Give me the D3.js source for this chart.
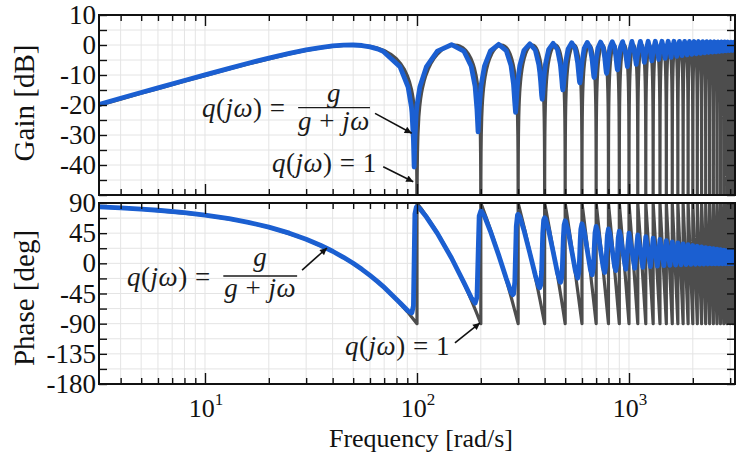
<!DOCTYPE html>
<html>
<head>
<meta charset="utf-8">
<script src="https://cdn.jsdelivr.net/npm/d3@7/dist/d3.min.js"></script>
<style>
html,body{margin:0;padding:0;background:#fff;}
svg{display:block;}
text{white-space:pre;}
</style>
</head>
<body>
<svg id="chart" width="747" height="455"></svg>
<script>
// ---------------- data ----------------
const freqDomain  = [3.1623, 3162.3];
const gainDomain  = [-50, 10];
const phaseDomain = [-180, 90];

const freqMajorTicks = [10, 100, 1000];
const freqMinorTicks = [4,5,6,7,8,9,20,30,40,50,60,70,80,90,200,300,400,500,600,700,800,900,2000,3000];
const freqTickExponents = ["1", "2", "3"];
const gainTicks = [-50,-45,-40,-35,-30,-25,-20,-15,-10,-5,0,5,10];
const gainTickLabels = [-40,-30,-20,-10,0,10];
const phaseTicks = [-180,-157.5,-135,-112.5,-90,-67.5,-45,-22.5,0,22.5,45,67.5,90];
const phaseTickLabels = [-180,-135,-90,-45,0,45,90];

// q(jw) = 1 (grey): notch frequencies and the shape of one period (offset from notch, rad/s)
const greyNotchFreq = [0,100,200,300,400,500,600,700,800,900,1000,1100,1200,1300,1400,1500,
                       1600,1700,1800,1900,2000,2100,2200,2300,2400,2500,2600,2700,2800,2900,3000,3100];
const greyGainOffset = [0,0.2,0.5,1,2,3,4,5,6,8,10,13,16,20,25,30,35,40,45,50,
                        55,60,65,70,75,80,84,87,90,92,94,95,96,97,98,99,99.5,99.8];
const greyGainDb = [-90,-44.04,-36.08,-30.06,-24.04,-20.53,-18.04,-16.11,-14.55,-12.09,
                    -10.20,-8.02,-6.34,-4.62,-3.01,-1.84,-1.00,-0.44,-0.11,0,
                    -0.11,-0.44,-1.00,-1.84,-3.01,-4.62,-6.34,-8.02,-10.20,-12.09,
                    -14.55,-16.11,-18.04,-20.53,-24.04,-30.06,-36.08,-44.04];
const greyPhaseOffset = [0,1,3,5,10,15,20,30,40,50,60,70,80,90,100];
const greyPhaseDeg    = [90,88.2,84.6,81,72,63,54,36,18,0,-18,-36,-54,-72,-90];

// q(jw) = g/(g+jw) (blue)
const blueFreq = [
  3.0,3.1623,4,5,6,8,10,13,16,20,25,30,35,40,45,50,55,60,65,
  69.17,83.06,90.78,94.07,94.64,96.18,96.95,97.72,99.27,100,103.13,110.85,124.75,145.48,
  166.25,180.18,187.92,191.79,194.11,196.43,200.3,208.05,222.0,242.81,
  263.64,277.62,283.1,285.38,289.27,291.6,293.94,297.83,300,305.59,319.59,340.49,
  361.4,375.43,379.26,383.22,387.12,389.46,391.81,395.71,400,403.51,417.58,438.54,
  459.53,473.61,475.65,481.44,485.35,487.7,490.05,493.96,499.76,501.8,515.9,536.93,
  557.98,572.58,579.96,583.89,586.25,588.61,592.54,599.91,614.52,635.61,
  656.71,670.15,678.74,682.68,685.04,687.4,691.33,699.94,713.37,734.51,
  755.65,768.08,777.73,781.67,784.03,786.4,790.34,800,812.43,833.59,
  854.77,866.39,876.88,880.84,883.21,885.58,889.53,900,911.63,932.83,965.2,
  982.4,1000,1032.1,1064.1,
  1081.8,1100,1131.5,1163.1,
  1181.3,1200,1231.1,1262.1,
  1280.8,1300,1330.6,1361.3,
  1380.5,1400,1430.3,1460.6,
  1480.1,1500,1530.0,1559.9,
  1579.8,1600,1629.7,1659.4,
  1679.6,1700,1729.4,1758.9,
  1779.3,1800,1829.2,1858.4,
  1879.1,1900,1929.0,1958.0,
  1978.9,2000,2028.8,2057.6,
  2078.7,2100,2128.6,2157.3,
  2178.6,2200,2228.5,2257.0,
  2278.4,2300,2328.3,2356.7,
  2378.3,2400,2428.2,2456.4,
  2478.1,2500,2528.1,2556.2,
  2578.0,2600,2628.0,2655.9,
  2677.9,2700,2727.9,2755.7,
  2777.8,2800,2827.8,2855.5,
  2877.7,2900,2927.7,2955.3,
  2977.6,3000,3027.6,3055.2,
  3077.5,3100,3127.5,3155.0,
  3177.5,3200
];
const blueGainDb = [
  -20.26,-19.80,-17.77,-15.84,-14.28,-11.83,-9.94,-7.77,-6.09,-4.38,-2.79,-1.65,-0.85,-0.32,-0.05,0.00,-0.17,-0.61,-1.29,
  -2.10,-7.20,-14.00,-20.58,-22.41,-31.46,-40.66,-31.43,-22.39,-20.05,-13.98,-7.18,-2.06,0.09,
  -2.01,-7.08,-13.78,-21.54,-28.95,-21.46,-13.74,-7.03,-1.93,0.22,
  -1.85,-6.87,-11.30,-13.25,-19.37,-22.42,-19.25,-13.15,-10.83,-6.79,-1.75,0.39,
  -1.66,-6.55,-8.94,-12.36,-16.69,-18.09,-16.57,-12.23,-8.63,-6.45,-1.55,0.56,
  -1.46,-6.16,-7.25,-11.25,-14.24,-14.97,-14.13,-11.10,-7.12,-6.04,-1.34,0.72,
  -1.26,-5.95,-10.08,-12.20,-12.64,-12.11,-9.94,-5.82,-1.15,0.86,
  -1.07,-4.98,-8.99,-10.54,-10.84,-10.47,-8.86,-4.86,-0.97,0.98,
  -0.90,-4.20,-8.02,-9.20,-9.41,-9.15,-7.90,-4.08,-0.81,1.07,
  -0.75,-3.60,-7.17,-8.11,-8.27,-8.06,-7.07,-3.49,-0.68,1.13,-3.17,
  -7.19,-3.01,1.19,-2.80,
  -6.44,-2.62,1.22,-2.45,
  -5.81,-2.29,1.24,-2.15,
  -5.28,-2.02,1.25,-1.90,
  -4.83,-1.79,1.25,-1.69,
  -4.44,-1.60,1.24,-1.51,
  -4.10,-1.43,1.24,-1.36,
  -3.81,-1.29,1.22,-1.23,
  -3.55,-1.17,1.21,-1.11,
  -3.32,-1.06,1.19,-1.01,
  -3.12,-0.97,1.17,-0.93,
  -2.94,-0.89,1.15,-0.85,
  -2.77,-0.82,1.13,-0.78,
  -2.63,-0.75,1.11,-0.72,
  -2.49,-0.70,1.09,-0.67,
  -2.37,-0.64,1.07,-0.62,
  -2.26,-0.60,1.05,-0.58,
  -2.16,-0.56,1.03,-0.54,
  -2.06,-0.52,1.01,-0.50,
  -1.98,-0.49,0.99,-0.47,
  -1.90,-0.46,0.97,-0.44,
  -1.83,-0.43,0.96,-0.42,
  -1.76,-0.40
];
const bluePhaseDeg = [
  84.60,84.31,82.80,81.00,79.20,75.60,72.00,66.60,61.20,54.00,45.05,35.95,27.00,18.00,9.00,0.05,-8.95,-17.93,-26.86,
  -34.30,-58.73,-71.15,-74.07,-73.72,-63.21,5.44,73.50,83.94,84.29,81.37,68.97,44.65,7.95,
  -28.29,-51.00,-59.34,-51.03,10.23,70.52,78.65,70.34,47.82,12.25,
  -22.62,-42.78,-46.78,-45.60,-27.98,14.00,55.18,72.24,73.30,69.35,49.41,15.45,
  -17.70,-34.92,-36.42,-32.47,-11.86,16.63,44.62,64.48,68.20,66.67,49.67,17.58,
  -13.65,-27.91,-28.28,-21.60,-2.00,18.29,38.28,57.14,63.44,63.03,48.94,18.80,
  -10.47,-22.04,-13.42,3.90,19.15,34.22,50.93,59.04,47.56,19.36,
  -7.99,-17.27,-7.52,7.47,19.46,31.33,45.85,55.01,45.79,19.46,
  -6.09,-13.65,-3.38,9.60,19.38,29.06,41.67,51.35,43.82,19.22,
  -4.65,-10.88,-0.47,10.85,19.04,27.17,38.18,48.02,41.79,18.80,-8.76,
  18.44,45.00,18.14,-7.32,
  17.83,42.27,17.51,-5.99,
  17.19,39.81,16.86,-4.94,
  16.53,37.57,16.21,-4.12,
  15.88,35.54,15.57,-3.46,
  15.26,33.69,14.95,-2.93,
  14.65,32.01,14.36,-2.50,
  14.08,30.47,13.80,-2.15,
  13.53,29.06,13.27,-1.86,
  13.02,27.76,12.77,-1.61,
  12.53,26.57,12.30,-1.41,
  12.07,25.46,11.85,-1.24,
  11.64,24.44,11.43,-1.10,
  11.23,23.50,11.04,-0.97,
  10.85,22.62,10.67,-0.87,
  10.49,21.80,10.32,-0.78,
  10.15,21.04,9.99,-0.70,
  9.83,20.32,9.68,-0.63,
  9.53,19.65,9.38,-0.57,
  9.24,19.03,9.11,-0.51,
  8.97,18.43,8.84,-0.47,
  8.72,17.88,8.59,-0.43,
  8.47,17.35
];

// ---------------- layout & style ----------------
const W = 747, H = 455;
const plotLeft = 99, plotRight = 735;
const gainTop = 15, gainBottom = 195;
const phaseTop = 203, phaseBottom = 384;
const serif = "'Liberation Serif','DejaVu Serif','Times New Roman',serif";
const greyColor = "#4d4d4d", blueColor = "#1b5fd1", gridColor = "#e4e4e4";

const svg = d3.select("#chart");
svg.append("rect").attr("width", W).attr("height", H).attr("fill", "#fff");

const x  = d3.scaleLog().domain(freqDomain).range([plotLeft, plotRight]);
const yG = d3.scaleLinear().domain(gainDomain).range([gainBottom, gainTop]);
const yP = d3.scaleLinear().domain(phaseDomain).range([phaseBottom, phaseTop]);

// build series tables
const greyGainPts = [], greyPhasePts = [];
greyNotchFreq.forEach(f0 => {
  greyGainOffset.forEach((o, i) => { const w = f0 + o; if (w > 0) greyGainPts.push([w, greyGainDb[i]]); });
  greyPhaseOffset.forEach((o, i) => { const w = f0 + o; if (w > 0) greyPhasePts.push([w, greyPhaseDeg[i]]); });
});
const blueGainPts  = blueFreq.map((w, i) => [w, blueGainDb[i]]);
const bluePhasePts = blueFreq.map((w, i) => [w, bluePhaseDeg[i]]);

const defs = svg.append("defs");
defs.append("marker").attr("id", "arrowhead").attr("viewBox", "0 0 10 10")
  .attr("refX", 10).attr("refY", 5).attr("markerWidth", 10).attr("markerHeight", 7)
  .attr("markerUnits", "userSpaceOnUse").attr("orient", "auto")
  .append("path").attr("d", "M0,0 L10,5 L0,10 Z").attr("fill", "#111");

function tickStyle(sel) {
  sel.select(".domain").remove();
  sel.selectAll(".tick line").attr("stroke", "#111").attr("stroke-width", 1.4);
}

function drawPanel(cfg) {
  const g = svg.append("g");
  const allFreqTicks = freqMajorTicks.concat(freqMinorTicks);
  // grid
  g.append("g").selectAll("line").data(allFreqTicks).join("line")
    .attr("x1", d => x(d)).attr("x2", d => x(d))
    .attr("y1", cfg.top).attr("y2", cfg.bottom)
    .attr("stroke", gridColor).attr("stroke-width", 1);
  g.append("g").selectAll("line").data(cfg.ticks).join("line")
    .attr("x1", plotLeft).attr("x2", plotRight)
    .attr("y1", d => cfg.y(d)).attr("y2", d => cfg.y(d))
    .attr("stroke", gridColor).attr("stroke-width", 1);

  // curves
  defs.append("clipPath").attr("id", "clip-" + cfg.name)
    .append("rect").attr("x", plotLeft).attr("y", cfg.top)
    .attr("width", plotRight - plotLeft).attr("height", cfg.bottom - cfg.top);
  const plot = g.append("g").attr("clip-path", `url(#clip-${cfg.name})`);
  const line = d3.line().x(d => x(d[0])).y(d => cfg.y(d[1]));
  plot.append("path").datum(cfg.grey).attr("d", line)
    .attr("fill", "none").attr("stroke", greyColor).attr("stroke-width", 3.2)
    .attr("stroke-linejoin", "round");
  plot.append("path").datum(cfg.blue).attr("d", line)
    .attr("fill", "none").attr("stroke", blueColor).attr("stroke-width", 4.8)
    .attr("stroke-linejoin", "round").attr("stroke-linecap", "round");

  // inward ticks on all four sides
  g.append("g").attr("transform", `translate(0,${cfg.bottom})`)
    .call(d3.axisBottom(x).tickValues(freqMajorTicks).tickSize(-11).tickFormat("")).call(tickStyle);
  g.append("g").attr("transform", `translate(0,${cfg.bottom})`)
    .call(d3.axisBottom(x).tickValues(freqMinorTicks).tickSize(-6).tickFormat("")).call(tickStyle);
  g.append("g").attr("transform", `translate(0,${cfg.top})`)
    .call(d3.axisTop(x).tickValues(freqMajorTicks).tickSize(-11).tickFormat("")).call(tickStyle);
  g.append("g").attr("transform", `translate(0,${cfg.top})`)
    .call(d3.axisTop(x).tickValues(freqMinorTicks).tickSize(-6).tickFormat("")).call(tickStyle);
  g.append("g").attr("transform", `translate(${plotLeft},0)`)
    .call(d3.axisLeft(cfg.y).tickValues(cfg.ticks).tickSize(-8).tickFormat("")).call(tickStyle);
  g.append("g").attr("transform", `translate(${plotRight},0)`)
    .call(d3.axisRight(cfg.y).tickValues(cfg.ticks).tickSize(-8).tickFormat("")).call(tickStyle);

  // y tick labels
  const lab = g.append("g").attr("transform", `translate(${plotLeft},0)`)
    .call(d3.axisLeft(cfg.y).tickValues(cfg.labels).tickSize(0).tickPadding(3).tickFormat(d => String(d)));
  lab.select(".domain").remove();
  lab.attr("font-family", null).attr("font-size", null);
  lab.selectAll("text").attr("font-family", serif).attr("font-size", 27).attr("fill", "#111");

  // frame
  g.append("rect").attr("x", plotLeft).attr("y", cfg.top)
    .attr("width", plotRight - plotLeft).attr("height", cfg.bottom - cfg.top)
    .attr("fill", "none").attr("stroke", "#111").attr("stroke-width", 2);
}

drawPanel({name: "gain",  top: gainTop,  bottom: gainBottom,  y: yG, ticks: gainTicks,  labels: gainTickLabels,  grey: greyGainPts,  blue: blueGainPts});
drawPanel({name: "phase", top: phaseTop, bottom: phaseBottom, y: yP, ticks: phaseTicks, labels: phaseTickLabels, grey: greyPhasePts, blue: bluePhasePts});

// x tick labels 10^n
freqMajorTicks.forEach((f, i) => {
  const t = svg.append("text").attr("x", x(f) + 1).attr("y", 417)
    .attr("text-anchor", "middle").attr("font-family", serif).attr("font-size", 26).attr("fill", "#111");
  t.append("tspan").text("10");
  t.append("tspan").attr("dy", -12).attr("font-size", 17).text(freqTickExponents[i]);
});

// axis titles
svg.append("text").attr("x", 421).attr("y", 447).attr("text-anchor", "middle")
  .attr("font-family", serif).attr("font-size", 26).attr("fill", "#111").text("Frequency [rad/s]");
svg.append("text").attr("transform", "translate(34,103) rotate(-90)").attr("text-anchor", "middle")
  .attr("font-family", serif).attr("font-size", 29).attr("fill", "#111").text("Gain [dB]");
svg.append("text").attr("transform", "translate(34,298) rotate(-90)").attr("text-anchor", "middle")
  .attr("font-family", serif).attr("font-size", 29).attr("fill", "#111").text("Phase [deg]");

// ---------------- annotations (anchored in data coordinates) ----------------
const mathSize = 27;
function mathText(px, py, parts, anchor) {
  const t = svg.append("text").attr("x", px).attr("y", py).attr("text-anchor", anchor || "start")
    .attr("font-family", serif).attr("font-size", mathSize).attr("letter-spacing", 0.5).attr("fill", "#1a1a1a");
  parts.forEach(p => t.append("tspan").attr("font-style", p[1] ? "italic" : "normal").text(p[0]));
  return t;
}
function arrow(p0, p1) {
  svg.append("line").attr("x1", p0[0]).attr("y1", p0[1]).attr("x2", p1[0]).attr("y2", p1[1])
    .attr("stroke", "#111").attr("stroke-width", 1.6).attr("marker-end", "url(#arrowhead)");
}
const qEq  = [["q",1],["(",0],["jω",1],[") =",0]];
const qOne = [["q",1],["(",0],["jω",1],[") = 1",0]];
const num  = [["g",1]];
const den  = [["g",1],[" + ",0],["jω",1]];

function fractionNote(y, a) {
  mathText(x(a.eq[0]), y(a.eq[1]), qEq, "start");
  const cx = x(a.fracCenter);
  mathText(cx, y(a.numBase), num, "middle");
  svg.append("line").attr("x1", x(a.bar[0])).attr("x2", x(a.bar[1]))
    .attr("y1", y(a.barY)).attr("y2", y(a.barY)).attr("stroke", "#1a1a1a").attr("stroke-width", 1.3);
  mathText(cx, y(a.denBase), den, "middle");
  arrow([x(a.arrow[0][0]), y(a.arrow[0][1])], [x(a.arrow[1][0]), y(a.arrow[1][1])]);
  mathText(x(a.one[0]), y(a.one[1]), qOne, "start");
  arrow([x(a.arrow2[0][0]), y(a.arrow2[0][1])], [x(a.arrow2[1][0]), y(a.arrow2[1][1])]);
}
fractionNote(yG, {
  eq: [9.68, -24.0], fracCenter: 40.6, numBase: -19.0, denBase: -28.3, barY: -20.9, bar: [27.5, 60.0],
  arrow: [[63.4, -22.8], [94.4, -29.4]],
  one: [20.7, -42.3], arrow2: [[69.3, -40.6], [96.0, -45.6]]
});
fractionNote(yP, {
  eq: [4.29, -34.5], fracCenter: 18.2, numBase: -4.0, denBase: -50.2, barY: -18.9, bar: [12.2, 27.2],
  arrow: [[28.7, -10.0], [37.6, 22.9]],
  one: [45.8, -136.7], arrow2: [[151, -118.8], [198.2, -89.0]]
});
</script>
</body>
</html>
